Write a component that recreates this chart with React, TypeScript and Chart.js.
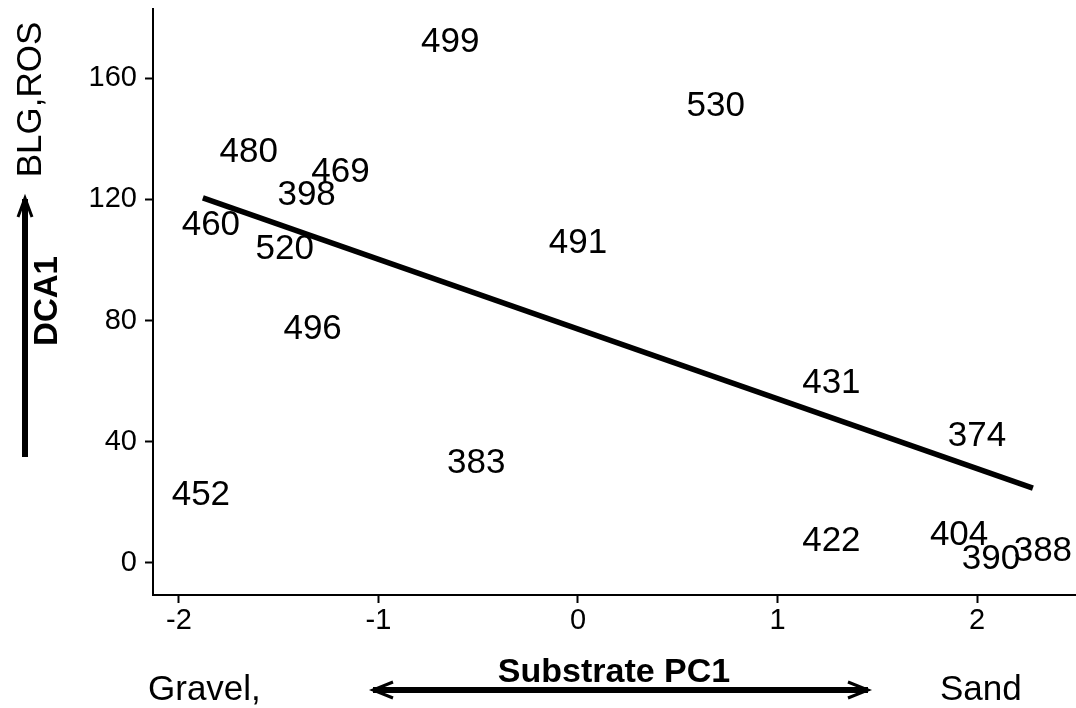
import React, { useEffect, useRef } from "react";
import { Chart, registerables } from "chart.js";

Chart.register(...registerables);

const FONT = "'Liberation Sans', Arial, sans-serif";

// Site labels and their positions (Substrate PC1, DCA1)
const siteLabels = ["499", "530", "480", "469", "398", "460", "520", "491", "496", "431", "374", "383", "452", "422", "404", "390", "388"];
const siteX = [-0.64, 0.69, -1.65, -1.19, -1.36, -1.84, -1.47, 0.0, -1.33, 1.27, 2.0, -0.51, -1.89, 1.27, 1.91, 2.07, 2.33];
const siteY = [172.6, 151.5, 136.3, 129.7, 122.4, 112.5, 104.5, 106.3, 78.2, 60.1, 42.6, 33.7, 23.3, 8.1, 10.1, 2.1, 4.8];

// Fitted line end points
const fitX = [-1.88, 2.28];
const fitY = [120.5, 24.7];

// Axis ticks
const xTicks = [-2, -1, 0, 1, 2];
const yTicks = [0, 40, 80, 120, 160];

const labelPlugin = {
  id: "siteLabels",
  afterDatasetsDraw(chart: any) {
    const meta = chart.getDatasetMeta(0);
    const ctx = chart.ctx;
    const size = 35;
    ctx.save();
    ctx.fillStyle = "#000";
    ctx.font = `${size}px ${FONT}`;
    ctx.textAlign = "center";
    ctx.textBaseline = "alphabetic";
    meta.data.forEach((el: any, i: number) => {
      ctx.fillText(siteLabels[i], el.x, el.y + size * 0.358);
    });
    ctx.restore();
  },
};

const annotPlugin = {
  id: "annot",
  afterDraw(chart: any) {
    const ctx = chart.ctx;
    ctx.save();
    ctx.fillStyle = "#000";
    ctx.strokeStyle = "#000";
    ctx.textBaseline = "alphabetic";

    ctx.font = `35px ${FONT}`;
    ctx.textAlign = "left";
    ctx.fillText("Gravel,", 148, 700);
    ctx.fillText("Sand", 940, 700);

    ctx.font = `bold 34px ${FONT}`;
    ctx.textAlign = "center";
    ctx.fillText("Substrate PC1", 614, 682);

    // horizontal double arrow
    ctx.lineCap = "butt";
    ctx.lineWidth = 6;
    ctx.beginPath();
    ctx.moveTo(373, 690);
    ctx.lineTo(868, 690);
    ctx.stroke();
    ctx.lineWidth = 3;
    ctx.beginPath();
    ctx.moveTo(393, 682);
    ctx.lineTo(373, 690);
    ctx.lineTo(393, 698);
    ctx.moveTo(848, 682);
    ctx.lineTo(868, 690);
    ctx.lineTo(848, 698);
    ctx.stroke();

    // vertical arrow
    ctx.lineWidth = 6;
    ctx.beginPath();
    ctx.moveTo(25, 457);
    ctx.lineTo(25, 199);
    ctx.stroke();
    ctx.lineWidth = 3;
    ctx.beginPath();
    ctx.moveTo(18, 217);
    ctx.lineTo(25, 198);
    ctx.lineTo(32, 217);
    ctx.stroke();

    // rotated labels
    ctx.save();
    ctx.translate(41, 99.5);
    ctx.rotate(-Math.PI / 2);
    ctx.font = `35px ${FONT}`;
    ctx.textAlign = "center";
    ctx.fillText("BLG,ROS", 0, 0);
    ctx.restore();

    ctx.save();
    ctx.translate(57, 301);
    ctx.rotate(-Math.PI / 2);
    ctx.font = `bold 33px ${FONT}`;
    ctx.textAlign = "center";
    ctx.fillText("DCA1", 0, 0);
    ctx.restore();

    ctx.restore();
  },
};

export default function App() {
  const ref = useRef<HTMLCanvasElement>(null);

  useEffect(() => {
    if (!ref.current) return;
    const points = siteX.map((x, i) => ({ x, y: siteY[i] }));
    const line = fitX.map((x, i) => ({ x, y: fitY[i] }));
    const chart = new Chart(ref.current, {
      type: "scatter",
      data: {
        datasets: [
          { data: points, pointRadius: 0, borderWidth: 0, backgroundColor: "#000" },
          {
            type: "line",
            data: line,
            borderColor: "#000",
            borderWidth: 5.5,
            pointRadius: 0,
            showLine: true,
            fill: false,
          } as any,
        ],
      },
      options: {
        animation: false,
        responsive: true,
        maintainAspectRatio: false,
        layout: { padding: { top: 9, left: 0, right: 0, bottom: 0 } },
        plugins: { legend: { display: false }, tooltip: { enabled: false } },
        events: [],
        scales: {
          x: {
            type: "linear",
            min: -2.13,
            max: 2.496,
            afterBuildTicks: (s: any) => {
              s.ticks = xTicks.map((v) => ({ value: v }));
            },
            afterFit: (s: any) => {
              s.height = 113;
              s.paddingLeft = 0;
              s.paddingRight = 0;
            },
            grid: { drawOnChartArea: false, drawTicks: true, tickLength: 8, tickColor: "#000", tickWidth: 2, color: "#000" },
            border: { display: true, color: "#000", width: 2 },
            ticks: { color: "#000", padding: 1, font: { size: 29, family: FONT }, maxRotation: 0, autoSkip: false },
          },
          y: {
            type: "linear",
            min: -10.56,
            max: 182.8,
            afterBuildTicks: (s: any) => {
              s.ticks = yTicks.map((v) => ({ value: v }));
            },
            afterFit: (s: any) => {
              s.width = 153;
              s.paddingTop = 0;
              s.paddingBottom = 0;
            },
            grid: { drawOnChartArea: false, drawTicks: true, tickLength: 8, tickColor: "#000", tickWidth: 2, color: "#000" },
            border: { display: true, color: "#000", width: 2 },
            ticks: { color: "#000", padding: 8, font: { size: 29, family: FONT }, autoSkip: false },
          },
        },
      },
      plugins: [labelPlugin, annotPlugin],
    });
    return () => chart.destroy();
  }, []);

  return (
    <div style={{ position: "absolute", left: 0, top: 0, width: 1076, height: 708, background: "#fff" }}>
      <canvas ref={ref} />
    </div>
  );
}
